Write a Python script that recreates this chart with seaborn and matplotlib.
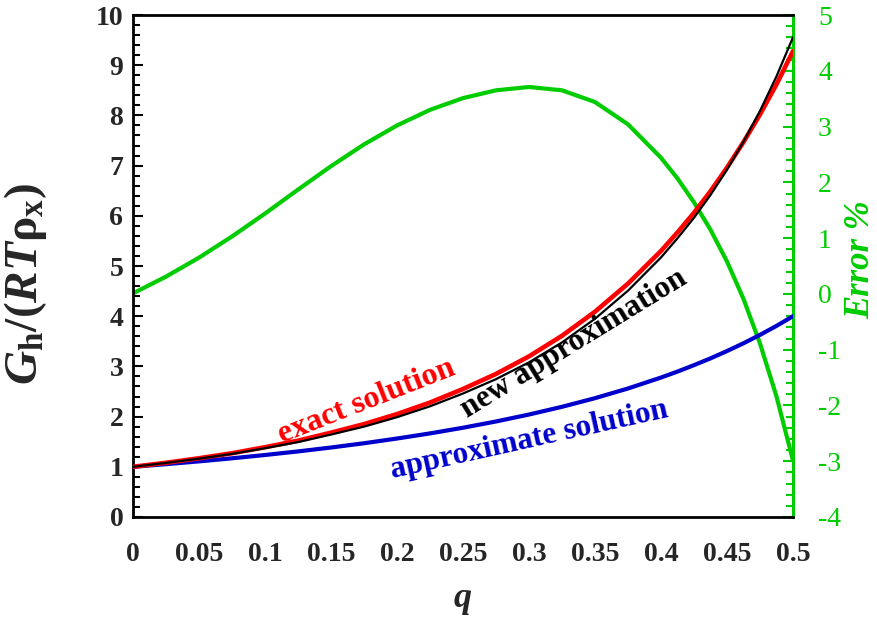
import matplotlib
matplotlib.use("Agg")
import matplotlib.pyplot as plt
from matplotlib.ticker import FixedLocator, FixedFormatter, MultipleLocator
import pandas as pd
import seaborn as sns

# ---- data -------------------------------------------------------------
q = [0.0, 0.025, 0.05, 0.075, 0.1, 0.125, 0.15, 0.175, 0.2, 0.225, 0.25,
     0.275, 0.3, 0.325, 0.35, 0.375, 0.4, 0.4125, 0.425, 0.4375, 0.45,
     0.4625, 0.475, 0.4875, 0.5]

exact_solution = [1.00, 1.08, 1.17, 1.27, 1.39, 1.52, 1.68, 1.85, 2.05, 2.28, 2.55,
                  2.85, 3.20, 3.61, 4.09, 4.65, 5.30, 5.67, 6.06, 6.49, 6.96,
                  7.47, 8.02, 8.62, 9.28]

new_approximation = [1.000, 1.077, 1.162, 1.257, 1.370, 1.492, 1.642, 1.800, 1.988,
                     2.205, 2.460, 2.746, 3.081, 3.478, 3.949, 4.509, 5.171, 5.553,
                     5.961, 6.415, 6.920, 7.477, 8.091, 8.779, 9.557]

approximate_solution = [1.000, 1.052, 1.108, 1.169, 1.235, 1.306, 1.384, 1.469, 1.563,
                        1.665, 1.778, 1.903, 2.041, 2.195, 2.367, 2.560, 2.778, 2.897,
                        3.025, 3.160, 3.306, 3.461, 3.628, 3.807, 4.000]

error_percent = [0.01, 0.31, 0.65, 1.03, 1.44, 1.87, 2.29, 2.68, 3.02, 3.30, 3.51,
                 3.65, 3.71, 3.65, 3.44, 3.04, 2.44, 2.07, 1.64, 1.15, 0.58,
                 -0.09, -0.89, -1.84, -2.99]

x_ticks = [0, 0.05, 0.1, 0.15, 0.2, 0.25, 0.3, 0.35, 0.4, 0.45, 0.5]
x_tick_labels = ["0", "0.05", "0.1", "0.15", "0.2", "0.25", "0.3", "0.35", "0.4", "0.45", "0.5"]
left_ticks = [0, 1, 2, 3, 4, 5, 6, 7, 8, 9, 10]
right_ticks = [-4, -3, -2, -1, 0, 1, 2, 3, 4, 5]

df = pd.DataFrame({
    "q": q,
    "exact": exact_solution,
    "new": new_approximation,
    "approx": approximate_solution,
    "error": error_percent,
})

# ---- style ------------------------------------------------------------
sns.set_theme(style="white")
plt.rcParams["font.family"] = ["Liberation Serif", "DejaVu Serif"]
plt.rcParams["axes.unicode_minus"] = False
plt.rcParams["mathtext.fontset"] = "custom"
plt.rcParams["mathtext.rm"] = "Liberation Serif"
plt.rcParams["mathtext.it"] = "Liberation Serif:italic"
plt.rcParams["mathtext.bf"] = "Liberation Serif:bold"
plt.rcParams["mathtext.bfit"] = "Liberation Serif:italic:bold"

RED = "#ff0000"
BLUE = "#0000cc"
GREEN = "#00cc00"
BLACK = "#000000"

fig = plt.figure(figsize=(8.78, 6.21), dpi=100)
ax = fig.add_axes([0.1515, 0.1675, 0.7517, 0.8083])
ax2 = ax.twinx()

# ---- curves on the left axis -----------------------------------------
sns.lineplot(data=df, x="q", y="approx", ax=ax, color=BLUE, lw=3.0, zorder=3)
sns.lineplot(data=df, x="q", y="exact", ax=ax, color=RED, lw=3.3, zorder=4)
sns.lineplot(data=df, x="q", y="new", ax=ax, color=BLACK, lw=1.6, zorder=5)

# ---- error curve on the right axis -----------------------------------
sns.lineplot(data=df, x="q", y="error", ax=ax2, color=GREEN, lw=3.0, zorder=6)

ax.set_xlim(0, 0.5)
ax.set_ylim(0, 10)
ax2.set_ylim(-4, 5)

# x axis
ax.xaxis.set_major_locator(FixedLocator(x_ticks))
ax.xaxis.set_major_formatter(FixedFormatter(x_tick_labels))
ax.xaxis.set_minor_locator(MultipleLocator(0.025))
# left y axis
ax.yaxis.set_major_locator(FixedLocator(left_ticks))
ax.yaxis.set_minor_locator(MultipleLocator(0.2))
# right y axis
ax2.yaxis.set_major_locator(FixedLocator(right_ticks))
ax2.yaxis.set_minor_locator(MultipleLocator(0.2))

ax.tick_params(axis="x", which="both", direction="in", length=6, width=1.5,
               color=BLACK, pad=18, labelsize=20, top=False)
ax.tick_params(axis="y", which="major", direction="in", length=7, width=1.5,
               color=BLACK, pad=7, labelsize=20, right=False)
ax.tick_params(axis="y", which="minor", direction="in", length=5, width=1.5,
               color=BLACK, right=False)
for lab in ax.get_xticklabels() + ax.get_yticklabels():
    lab.set_fontweight("bold")

ax2.tick_params(axis="y", which="major", direction="in", length=7, width=1.5,
                color=GREEN, labelcolor=GREEN, pad=18, labelsize=20)
ax2.tick_params(axis="y", which="minor", direction="in", length=5, width=1.5,
                color=GREEN)

for side in ("left", "bottom", "top"):
    ax.spines[side].set_color(BLACK)
    ax.spines[side].set_linewidth(2.0)
    ax2.spines[side].set_visible(False)
ax.spines["right"].set_visible(False)
ax2.spines["right"].set_color(GREEN)
ax2.spines["right"].set_linewidth(2.2)

ax.set_xlabel(r"$\mathbfit{q}$", fontsize=26, labelpad=12)
ax.set_ylabel(r"$\mathbfit{G}_{\mathbf{h}}\mathbf{/(}\mathbfit{RT}\mathbf{\rho}_{\mathbf{x}}\mathbf{)}$",
              fontsize=34)
ax.yaxis.set_label_coords(-0.128, 0.465)
ax2.set_ylabel("Error %", fontsize=25, fontweight="bold", fontstyle="italic",
               color=GREEN)
ax2.yaxis.set_label_coords(1.077, 0.512)

# ---- curve labels ----------------------------------------------------
ax.text(0.177, 2.30, "exact solution", color=RED, fontsize=23, fontweight="bold",
        rotation=21.5, ha="center", va="center", rotation_mode="anchor", zorder=7)
ax.text(0.334, 3.45, "new approximation", color=BLACK, fontsize=22.5, fontweight="bold",
        rotation=31.5, ha="center", va="center", rotation_mode="anchor", zorder=7)
ax.text(0.300, 1.53, "approximate solution", color=BLUE, fontsize=22.5, fontweight="bold",
        rotation=12.5, ha="center", va="center", rotation_mode="anchor", zorder=7)

ax.set_zorder(ax2.get_zorder() + 1)
ax.patch.set_visible(False)
for a in (ax, ax2):
    leg = a.get_legend()
    if leg is not None:
        leg.remove()

fig.savefig("out.png", dpi=100)
